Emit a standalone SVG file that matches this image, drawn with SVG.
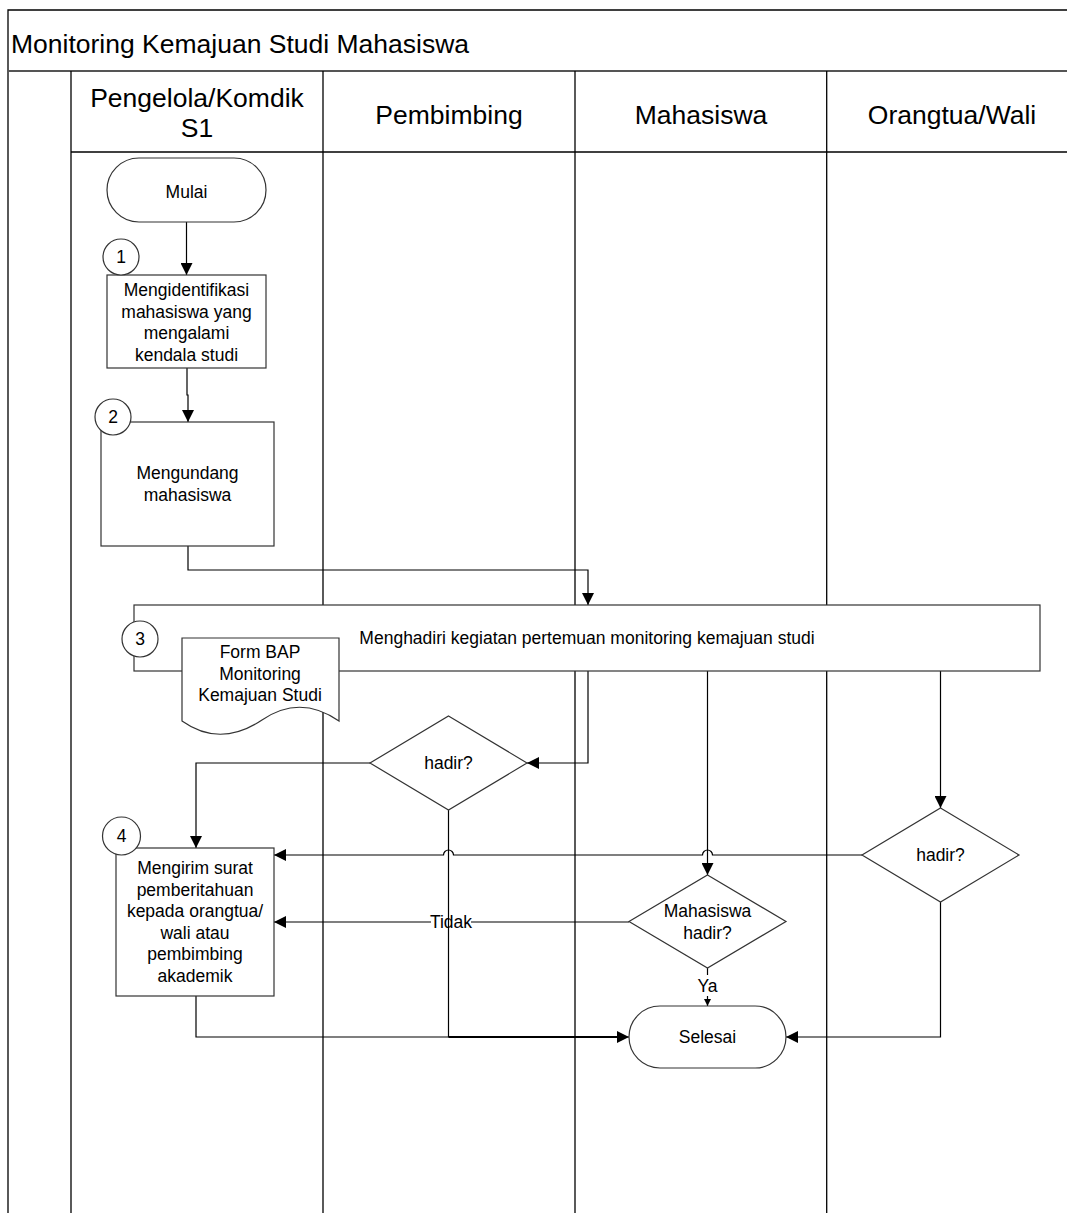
<svg xmlns="http://www.w3.org/2000/svg" width="1067" height="1213" viewBox="0 0 1067 1213">
<style>
.lane{stroke:#000;stroke-width:1.3;fill:none}
.shp{fill:#fff;stroke:#333;stroke-width:1.2}
.con{fill:none;stroke:#000;stroke-width:1.2}
.t{font-family:"Liberation Sans",Arial,sans-serif;font-size:17.5px;fill:#000;text-anchor:middle}
.h{font-family:"Liberation Sans",Arial,sans-serif;font-size:26.5px;fill:#000;text-anchor:middle}
</style>
<defs>
<marker id="arr" viewBox="0 0 10 10" refX="10" refY="5" markerWidth="12" markerHeight="12" markerUnits="userSpaceOnUse" orient="auto"><path d="M0,0 L10,5 L0,10 z" fill="#000"/></marker>
<marker id="arrs" viewBox="0 0 10 10" refX="10" refY="5" markerWidth="7" markerHeight="7" markerUnits="userSpaceOnUse" orient="auto"><path d="M0,0 L10,5 L0,10 z" fill="#000"/></marker>
</defs>
<rect width="1067" height="1213" fill="#fff"/>
<g id="pool">
<path class="lane" d="M8,1213 L8,10 L1067,10"/>
<line x1="8" y1="71" x2="1067" y2="71" stroke="#555" stroke-width="2"/>
<line class="lane" x1="71" y1="152" x2="1067" y2="152"/>
<line class="lane" x1="71" y1="71" x2="71" y2="1213"/>
<line class="lane" x1="323" y1="71" x2="323" y2="1213"/>
<line class="lane" x1="575" y1="71" x2="575" y2="1213"/>
<line class="lane" x1="826.7" y1="71" x2="826.7" y2="1213"/>
<text x="11" y="53" font-family="Liberation Sans,Arial,sans-serif" font-size="26.5" fill="#000">Monitoring Kemajuan Studi Mahasiswa</text>
<text class="h" x="197" y="107">Pengelola/Komdik</text>
<text class="h" x="197" y="137">S1</text>
<text class="h" x="449" y="124">Pembimbing</text>
<text class="h" x="701" y="124">Mahasiswa</text>
<text class="h" x="952" y="124">Orangtua/Wali</text>
</g>
<g id="connectors">
<line class="con" x1="186.5" y1="222" x2="186.5" y2="275" marker-end="url(#arr)"/>
<path class="con" d="M187,368 L187,395 L188,395 L188,422" marker-end="url(#arr)"/>
<path class="con" d="M188,546 L188,570 L588,570 L588,605" marker-end="url(#arr)"/>
<path class="con" d="M588,671 L588,763 L527,763" marker-end="url(#arr)"/>
<path class="con" d="M370,763 L196,763 L196,848" marker-end="url(#arr)"/>
<line class="con" x1="707.5" y1="671" x2="707.5" y2="875" marker-end="url(#arr)"/>
<line class="con" x1="940.5" y1="671" x2="940.5" y2="808" marker-end="url(#arr)"/>
<path class="con" d="M862,855 L712.5,855 A5,5 0 0 0 702.5,855 L453.5,855 A5,5 0 0 0 443.5,855 L274,855" marker-end="url(#arr)"/>
<line class="con" x1="629" y1="922" x2="274" y2="922" marker-end="url(#arr)"/>
<rect x="431" y="912" width="40" height="20" fill="#fff"/>
<text class="t" x="451" y="928">Tidak</text>
<path class="con" d="M448.5,810 L448.5,1037"/>
<path class="con" d="M196,996 L196,1037 L629,1037" marker-end="url(#arr)"/>
<line x1="448.5" y1="1037" x2="620" y2="1037" stroke="#000" stroke-width="2"/>
<path class="con" d="M940.5,902 L940.5,1037 L786,1037" marker-end="url(#arr)"/>
<line class="con" x1="707.5" y1="968" x2="707.5" y2="1006" marker-end="url(#arrs)"/>
<rect x="695" y="975" width="25" height="21" fill="#fff"/>
<text class="t" x="707.5" y="992">Ya</text>
</g>
<g id="mulai">
<rect class="shp" x="107" y="158" width="159" height="64" rx="32" ry="32"/>
<text class="t" x="186.5" y="198">Mulai</text>
</g>
<g id="step1">
<rect class="shp" x="107" y="275" width="159" height="93"/>
<text class="t" x="186.5" y="296">Mengidentifikasi</text>
<text class="t" x="186.5" y="317.5">mahasiswa yang</text>
<text class="t" x="186.5" y="339">mengalami</text>
<text class="t" x="186.5" y="360.5">kendala studi</text>
<circle class="shp" cx="121" cy="257" r="18"/>
<text class="t" x="121" y="263">1</text>
</g>
<g id="step2">
<rect class="shp" x="101" y="422" width="173" height="124"/>
<text class="t" x="187.5" y="479">Mengundang</text>
<text class="t" x="187.5" y="500.5">mahasiswa</text>
<circle class="shp" cx="113" cy="417" r="18"/>
<text class="t" x="113" y="423">2</text>
</g>
<g id="step3">
<rect class="shp" x="134" y="605" width="906" height="66"/>
<text class="t" x="587" y="644">Menghadiri kegiatan pertemuan monitoring kemajuan studi</text>
<circle class="shp" cx="140" cy="639" r="18"/>
<text class="t" x="140" y="645">3</text>
</g>
<g id="formbap">
<path class="shp" d="M182,721 L182,638 L339,638 L339,721 Q300,694 262,720 Q220,748 182,721 Z"/>
<text class="t" x="260" y="658">Form BAP</text>
<text class="t" x="260" y="679.5">Monitoring</text>
<text class="t" x="260" y="701">Kemajuan Studi</text>
</g>
<g id="hadir1">
<polygon class="shp" points="448.5,716 527,763 448.5,810 370,763"/>
<text class="t" x="448.5" y="769">hadir?</text>
</g>
<g id="hadir2">
<polygon class="shp" points="940.5,808 1019,855 940.5,902 862,855"/>
<text class="t" x="940.5" y="861">hadir?</text>
</g>
<g id="mhshadir">
<polygon class="shp" points="707.5,875 786,921.5 707.5,968 629,921.5"/>
<text class="t" x="707.5" y="917">Mahasiswa</text>
<text class="t" x="707.5" y="938.5">hadir?</text>
</g>
<g id="step4">
<rect class="shp" x="116" y="848" width="158" height="148"/>
<text class="t" x="195" y="874">Mengirim surat</text>
<text class="t" x="195" y="895.5">pemberitahuan</text>
<text class="t" x="195" y="917">kepada orangtua/</text>
<text class="t" x="195" y="938.5">wali atau</text>
<text class="t" x="195" y="960">pembimbing</text>
<text class="t" x="195" y="981.5">akademik</text>
<circle class="shp" cx="121.5" cy="836" r="19"/>
<text class="t" x="121.5" y="842">4</text>
</g>
<g id="selesai">
<rect class="shp" x="629" y="1006" width="157" height="62" rx="31" ry="31"/>
<text class="t" x="707.5" y="1043">Selesai</text>
</g>
</svg>
